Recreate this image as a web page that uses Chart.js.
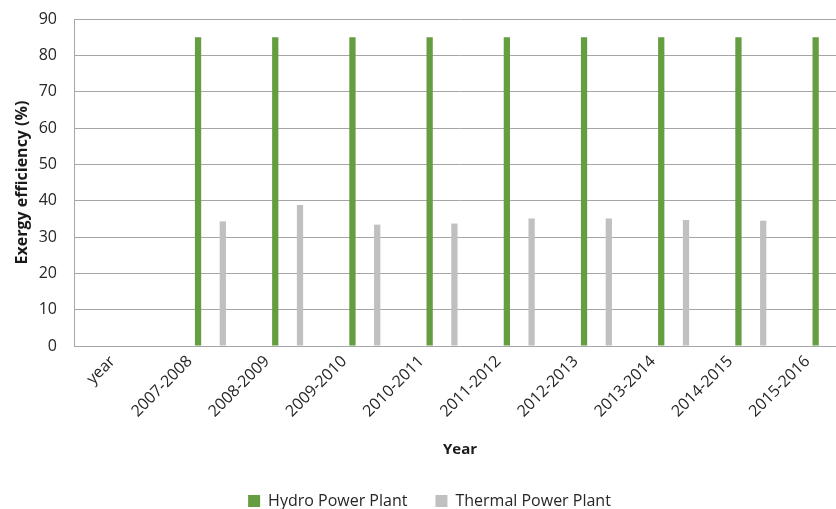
<!DOCTYPE html>
<html>
<head>
<meta charset="utf-8">
<script src="https://cdn.jsdelivr.net/npm/chart.js@4"></script>
<style>
    html, body { margin: 0; padding: 0; background: #ffffff; overflow: hidden; }
    #wrap { width: 860px; height: 509px; }
</style>
</head>
<body>
<div id="wrap"><canvas id="exergyChart" width="860" height="509"></canvas></div>
<script>
// Chart data
const years = ['year', '2007-2008', '2008-2009', '2009-2010', '2010-2011', '2011-2012',
    '2012-2013', '2013-2014', '2014-2015', '2015-2016'];
const hydroEfficiency = [null, 85, 85, 85, 85, 85, 85, 85, 85, 85];
const thermalEfficiency = [null, 34.3, 38.8, 33.4, 33.7, 35.1, 35.1, 34.7, 34.5, null];
const yTicks = [0, 10, 20, 30, 40, 50, 60, 70, 80, 90];

Chart.defaults.font.family = "'Open Sans', sans-serif";
Chart.defaults.color = '#262626';

// Empty series keep the Excel-style cluster offset of the original sheet
function emptySeries() {
    return { label: '', data: [], backgroundColor: 'rgba(0,0,0,0)' };
}

const hydro = {
    label: 'Hydro Power Plant',
    data: hydroEfficiency,
    backgroundColor: '#659d41'
};
const thermal = {
    label: 'Thermal Power Plant',
    data: thermalEfficiency,
    backgroundColor: '#c0c0c0'
};

const ctx = document.getElementById('exergyChart').getContext('2d');
new Chart(ctx, {
    type: 'bar',
    data: {
        labels: years,
        datasets: [emptySeries(), emptySeries(), emptySeries(), emptySeries(), emptySeries(),
            hydro, emptySeries(), emptySeries(), thermal]
    },
    options: {
        responsive: false,
        animation: false,
        categoryPercentage: 0.962,
        barPercentage: 0.76,
        layout: {
            padding: { left: 13, right: 14, top: 19, bottom: -10 }
        },
        plugins: {
            tooltip: { enabled: false },
            legend: {
                position: 'bottom',
                labels: {
                    filter: item => item.text !== '',
                    boxWidth: 12,
                    boxHeight: 12,
                    padding: 28,
                    color: '#262626',
                    font: { size: 16 }
                }
            }
        },
        scales: {
            x: {
                grid: { display: false, drawTicks: false },
                border: { color: '#a6a6a6', width: 1 },
                ticks: {
                    autoSkip: false,
                    minRotation: 45,
                    maxRotation: 45,
                    padding: 6,
                    font: { size: 16 }
                },
                title: {
                    display: true,
                    text: 'Year',
                    color: '#1a1a1a',
                    padding: { top: 0, bottom: 6 },
                    font: { size: 15, weight: 'bold' }
                },
                afterFit: scale => { scale.height = 119; }
            },
            y: {
                min: 0,
                max: 90,
                afterBuildTicks: scale => {
                    scale.ticks = yTicks.map(v => ({ value: v }));
                },
                grid: { color: '#a6a6a6', lineWidth: 1, drawTicks: false },
                border: { color: '#a6a6a6', width: 1 },
                ticks: {
                    padding: 17,
                    font: { size: 16 }
                },
                title: {
                    display: true,
                    text: 'Exergy efficiency (%)',
                    color: '#1a1a1a',
                    padding: 0,
                    font: { size: 16, weight: 'bold' }
                },
                afterFit: scale => {
                    scale.width = 61;
                    scale.paddingTop = 0;
                    scale.paddingBottom = 0;
                }
            }
        }
    }
});
</script>
</body>
</html>
